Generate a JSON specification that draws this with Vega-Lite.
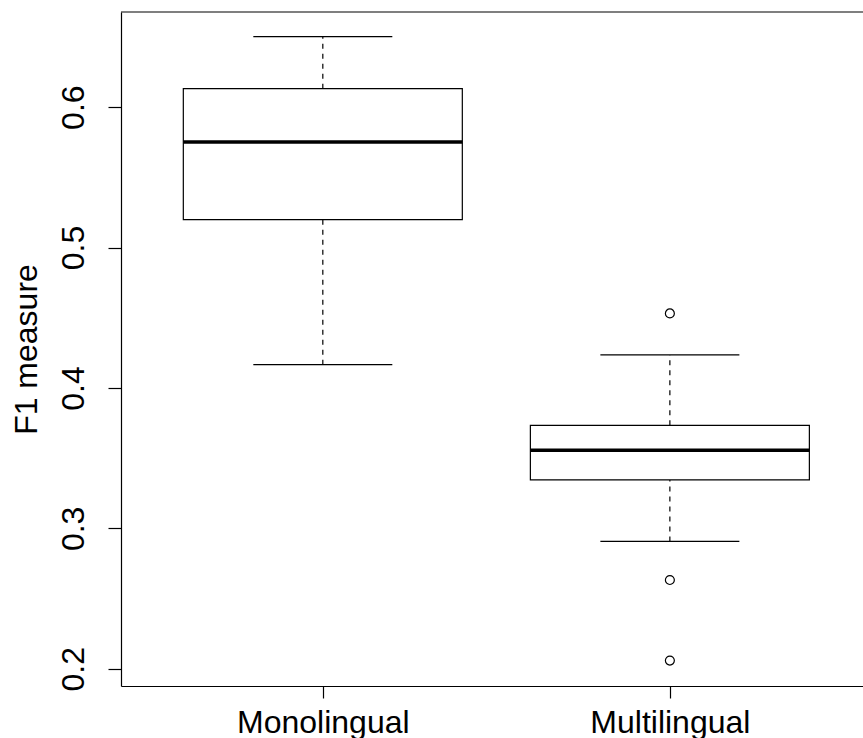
{
  "$schema": "https://vega.github.io/schema/vega-lite/v6.json",
  "width": 742,
  "height": 674,
  "autosize": {"type": "none"},
  "padding": {"left": 121, "top": 12, "right": 0, "bottom": 52},
  "background": "white",
  "config": {"view": {"stroke": null}, "font": "Liberation Sans"},
  "datasets": {
    "stats": [
      {"group": "Monolingual", "lower": 0.4166, "q1": 0.5199, "median": 0.5752, "q3": 0.6132, "upper": 0.6502},
      {"group": "Multilingual", "lower": 0.2907, "q1": 0.3345, "median": 0.3556, "q3": 0.3734, "upper": 0.4235}
    ],
    "outliers": [
      {"group": "Multilingual", "value": 0.4531},
      {"group": "Multilingual", "value": 0.2632},
      {"group": "Multilingual", "value": 0.2058}
    ]
  },
  "encoding": {
    "x": {
      "field": "group",
      "type": "nominal",
      "scale": {"type": "point", "domain": ["Monolingual", "Multilingual"], "padding": 0.569, "align": 0.511},
      "axis": {
        "title": null,
        "labelAngle": 0,
        "labelFontSize": 32,
        "labelFont": "Liberation Sans",
        "labelColor": "black",
        "labelBaseline": "alphabetic",
        "labelPadding": 34,
        "tickSize": 12,
        "tickColor": "black",
        "tickWidth": 1.2,
        "domainColor": "black",
        "domainWidth": 1.2,
        "grid": false
      }
    }
  },
  "layer": [
    {
      "data": {"name": "stats"},
      "mark": {"type": "rule", "strokeDash": [5, 5], "strokeWidth": 1.2, "color": "black"},
      "encoding": {
        "y": {
          "field": "lower",
          "type": "quantitative",
          "scale": {"domain": [0.1877, 0.6678], "nice": false, "zero": false},
          "axis": {
            "values": [0.2, 0.3, 0.4, 0.5, 0.6],
            "format": ".1f",
            "title": "F1 measure",
            "titleFontSize": 32,
            "titleFont": "Liberation Sans",
            "titleFontWeight": "normal",
            "titleColor": "black",
            "titleAngle": -90,
            "titleAlign": "center",
            "titleBaseline": "alphabetic",
            "titleX": -85,
            "titleY": 337,
            "labelAngle": -90,
            "labelAlign": "center",
            "labelBaseline": "alphabetic",
            "labelFontSize": 32,
            "labelFont": "Liberation Sans",
            "labelColor": "black",
            "labelPadding": 25,
            "tickSize": 13,
            "tickColor": "black",
            "tickWidth": 1.2,
            "domainColor": "black",
            "domainWidth": 1.2,
            "grid": false
          }
        },
        "y2": {"field": "q1"}
      }
    },
    {
      "data": {"name": "stats"},
      "mark": {"type": "rule", "strokeDash": [5, 5], "strokeWidth": 1.2, "color": "black"},
      "encoding": {
        "y": {"field": "q3", "type": "quantitative"},
        "y2": {"field": "upper"}
      }
    },
    {
      "data": {"name": "stats"},
      "mark": {"type": "tick", "size": 139, "thickness": 1.2, "color": "black", "opacity": 1},
      "encoding": {"y": {"field": "lower", "type": "quantitative"}}
    },
    {
      "data": {"name": "stats"},
      "mark": {"type": "tick", "size": 139, "thickness": 1.2, "color": "black", "opacity": 1},
      "encoding": {"y": {"field": "upper", "type": "quantitative"}}
    },
    {
      "data": {"name": "stats"},
      "mark": {"type": "bar", "width": 279, "fill": "white", "stroke": "black", "strokeWidth": 1.2, "opacity": 1},
      "encoding": {
        "y": {"field": "q1", "type": "quantitative"},
        "y2": {"field": "q3"}
      }
    },
    {
      "data": {"name": "stats"},
      "mark": {"type": "tick", "size": 279, "thickness": 3.6, "color": "black", "opacity": 1},
      "encoding": {"y": {"field": "median", "type": "quantitative"}}
    },
    {
      "data": {"name": "outliers"},
      "mark": {"type": "point", "shape": "circle", "filled": false, "size": 80, "stroke": "black", "strokeWidth": 1.2, "opacity": 1},
      "encoding": {"y": {"field": "value", "type": "quantitative"}}
    },
    {
      "data": {"values": [{}]},
      "mark": {"type": "rule", "color": "black", "strokeWidth": 1.2},
      "encoding": {"y": {"datum": 0.6678, "type": "quantitative"}, "x": null}
    }
  ]
}
